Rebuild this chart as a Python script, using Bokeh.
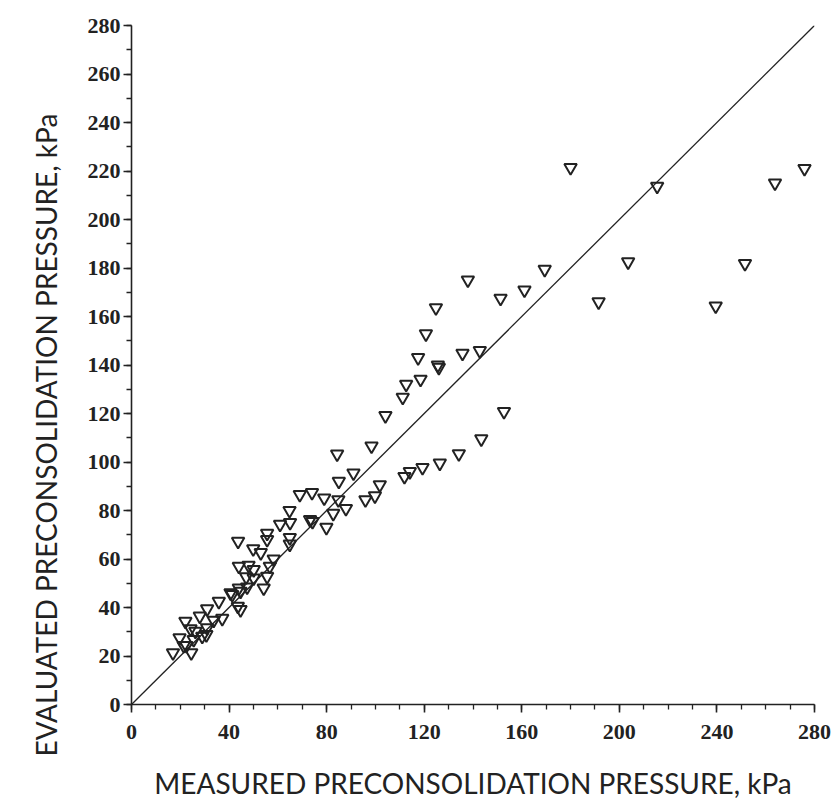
import math
from bokeh.plotting import figure
from bokeh.models import Range1d, FixedTicker, Title
from bokeh.embed import file_html
from bokeh.resources import INLINE

# Data (kPa)
measured = [
    17.0, 19.7, 22.1, 22.5, 24.5, 25.5, 26.2, 28.0, 29.0, 30.7, 31.0, 31.0, 33.7, 35.8,
    37.2, 41.3, 43.6, 44.7, 44.0, 44.7, 47.4, 47.0, 50.1, 54.2, 55.6, 44.0, 48.0, 50.1,
    56.7, 58.3, 43.7, 49.9, 53.0, 55.6, 55.6, 24.2, 21.4, 40.6,
    60.9, 64.8, 65.0, 64.9, 64.9, 69.0, 74.0, 73.2, 74.2, 79.0, 79.9, 82.7, 84.8, 87.9,
    84.3, 91.0, 85.0, 95.9, 99.8, 101.8, 98.4, 104.1, 111.2, 112.6, 118.5, 117.5, 120.7,
    124.8, 125.6, 126.0, 135.7, 142.8, 137.9, 151.3, 161.1, 169.4, 111.9, 114.1, 119.3,
    126.4, 134.2, 143.4, 152.7,
    180.0, 215.5, 263.8, 275.9, 203.6, 251.5, 191.5, 239.5,
]
evaluated = [
    21.3, 27.5, 34.3, 24.3, 21.3, 26.8, 30.2, 36.4, 28.1, 28.8, 31.6, 39.4, 34.7, 42.5,
    35.5, 45.3, 40.5, 39.1, 48.0, 46.7, 48.4, 52.6, 52.1, 48.0, 52.8, 57.0, 57.4, 55.6,
    57.0, 60.0, 67.3, 64.2, 62.6, 68.0, 70.6, 31.2, 24.3, 46.0,
    74.3, 80.0, 75.0, 68.8, 66.1, 86.6, 87.4, 76.2, 75.4, 85.1, 73.0, 78.8, 84.4, 80.8,
    103.3, 95.4, 92.0, 84.4, 86.0, 90.6, 106.6, 119.1, 126.7, 132.0, 134.1, 143.0, 152.8,
    163.6, 140.0, 139.0, 144.8, 145.9, 175.0, 167.5, 170.9, 179.4, 94.0, 96.0, 97.7,
    99.5, 103.4, 109.5, 120.8,
    221.4, 213.7, 215.0, 221.0, 182.5, 181.8, 166.0, 164.3,
]
line_x = [0, 280]
line_y = [0, 280]
x_ticks = [0, 40, 80, 120, 160, 200, 240, 280]
y_ticks = [0, 20, 40, 60, 80, 100, 120, 140, 160, 180, 200, 220, 240, 260, 280]
x_title = "MEASURED PRECONSOLIDATION PRESSURE, kPa"
y_title = "EVALUATED PRECONSOLIDATION PRESSURE, kPa"

INK = "#222222"

p = figure(width=831, height=802, output_backend="svg", toolbar_location=None,
           x_range=Range1d(0, 280), y_range=Range1d(0, 280),
           min_border_left=131, min_border_right=17, min_border_top=25, min_border_bottom=97)
p.outline_line_color = None
p.grid.visible = False
p.background_fill_color = "white"
p.border_fill_color = "white"

p.line(line_x, line_y, line_color=INK, line_width=1.3)
p.scatter(measured, evaluated, marker="inverted_triangle", size=12.5,
          line_color=INK, line_width=2, fill_alpha=0)

p.xaxis.ticker = FixedTicker(ticks=x_ticks, minor_ticks=list(range(0, 281, 10)))
p.yaxis.ticker = FixedTicker(ticks=y_ticks, minor_ticks=list(range(0, 281, 10)))
for ax in (p.xaxis[0], p.yaxis[0]):
    ax.axis_line_color = INK
    ax.axis_line_width = 1.6
    ax.major_tick_line_color = INK
    ax.major_tick_line_width = 1.6
    ax.minor_tick_line_color = INK
    ax.minor_tick_line_width = 1.3
    ax.major_tick_out = 8
    ax.major_tick_in = 0
    ax.minor_tick_out = 5
    ax.minor_tick_in = 0
    ax.major_label_text_font = "Liberation Serif"
    ax.major_label_text_font_style = "bold"
    ax.major_label_text_font_size = "22px"
    ax.major_label_text_color = INK
p.xaxis.major_label_standoff = 12
p.yaxis.major_label_standoff = 3

p.xaxis.axis_label = x_title
p.xaxis.axis_label_text_font = "Lato"
p.xaxis.axis_label_text_font_style = "normal"
p.xaxis.axis_label_text_font_size = "28px"
p.xaxis.axis_label_text_color = INK
p.xaxis.axis_label_standoff = 24

p.add_layout(Title(text=y_title, align="left", offset=-52, standoff=43, text_font="Lato",
                   text_font_style="normal", text_font_size="28px", text_color=INK), "left")

open("out.html", "w").write(file_html(p, INLINE))
